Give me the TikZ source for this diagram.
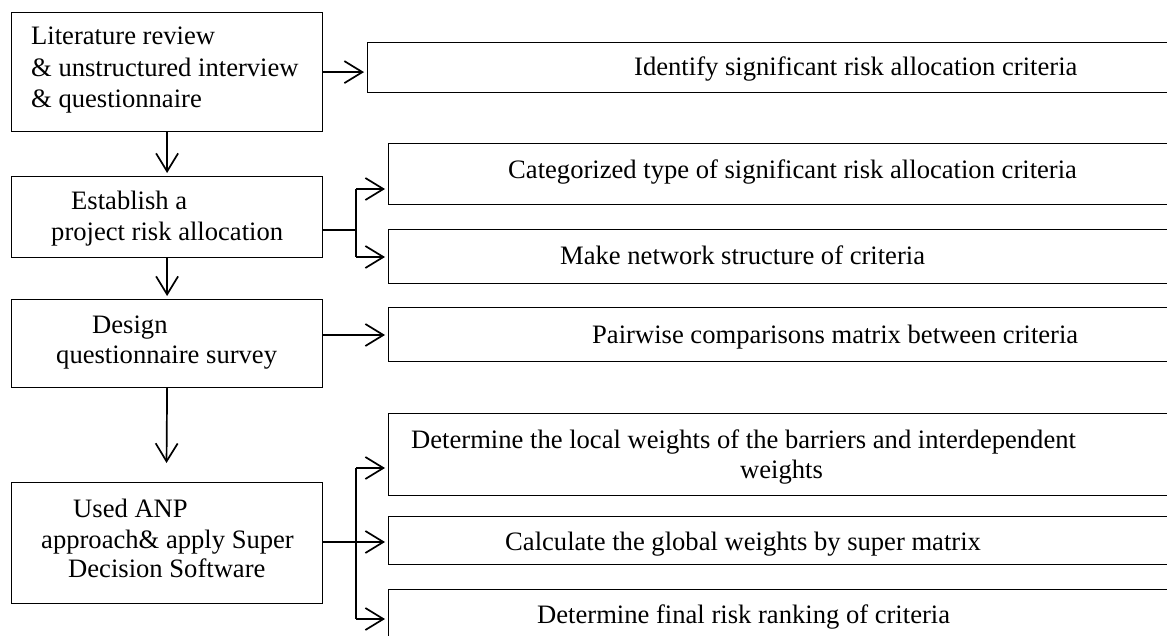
\documentclass[tikz,border=0pt]{standalone}
\usepackage{fontspec}
\setmainfont{Liberation Serif}
\usetikzlibrary{arrows.meta}
\begin{document}
\begin{tikzpicture}[x=1pt,y=-1pt,
  box/.style={draw=black,line width=1.2pt,inner sep=0pt,anchor=north west},
  txt/.style={anchor=base west,inner sep=0pt,font=\fontsize{26.6}{31.5}\selectfont},
  conn/.style={line width=1.7pt},
  arr/.style={conn,-{Straight Barb[length=18pt,width=22pt,line width=1.7pt]},shorten >=3pt}]
\clip (0,0) rectangle (1167,636);
\fill[white] (0,0) rectangle (1167,636);
% left boxes
\node[box,minimum width=311pt,minimum height=119pt] (L1) at (11,12) {};
\node[box,minimum width=311pt,minimum height=81pt] (L2) at (11,176) {};
\node[box,minimum width=311pt,minimum height=88pt] (L3) at (11,299) {};
\node[box,minimum width=311pt,minimum height=121pt] (L4) at (11,482) {};
% right boxes
\node[box,minimum width=813pt,minimum height=50pt] (R1) at (367,42) {};
\node[box,minimum width=792pt,minimum height=61pt] (R2) at (388,143) {};
\node[box,minimum width=792pt,minimum height=54pt] (R3) at (388,229) {};
\node[box,minimum width=792pt,minimum height=54pt] (R4) at (388,307) {};
\node[box,minimum width=792pt,minimum height=82pt] (R5) at (388,413) {};
\node[box,minimum width=792pt,minimum height=48pt] (R6) at (388,516) {};
\node[box,minimum width=792pt,minimum height=61pt] (R7) at (388,589) {};
% texts
\node[txt] (t1a) at (31,45) {Literature review};
\node[txt] (t1b) at (31,77) {\& unstructured interview};
\node[txt] (t1c) at (31,108) {\& questionnaire};
\node[txt] (t2a) at (71,210) {Establish a};
\node[txt] (t2b) at (51,241) {project risk allocation};
\node[txt] (t3a) at (92,333) {Design};
\node[txt] (t3b) at (56,363) {questionnaire survey};
\node[txt] (t4a) at (73,517) {Used ANP};
\node[txt] (t4b) at (41,548) {approach\& apply Super};
\node[txt] (t4c) at (68,577) {Decision Software};
\node[txt] (r1) at (634,76) {Identify significant risk allocation criteria};
\node[txt] (r2) at (508,179) {Categorized type of significant risk allocation criteria};
\node[txt] (r3) at (560,265) {Make network structure of criteria};
\node[txt] (r4) at (592,343) {Pairwise comparisons matrix between criteria};
\node[txt] (r5a) at (411,448) {Determine the local weights of the barriers and interdependent};
\node[txt] (r5b) at (740,478) {weights};
\node[txt] (r6) at (505,550) {Calculate the global weights by super matrix};
\node[txt] (r7) at (537,623) {Determine final risk ranking of criteria};
% vertical flow
\draw[arr] (L1.south) -- (L2.north);
\draw[arr] (L2.south) -- (L3.north);
\coordinate (e3) at (166.5,466);
\draw[arr] (L3.south) -- (e3);
% L1 -> R1
\draw[arr] (L1.east) -- (L1.east -| R1.west);
% L2 -> R2, R3
\coordinate (j2) at (356,230);
\coordinate (a2) at (356,189);
\coordinate (a3) at (356,257);
\draw[conn] (L2.east |- j2) -- (j2);
\draw[conn] (a2) -- (a3);
\draw[arr] (a2) -- (a2 -| R2.west);
\draw[arr] (a3) -- (a3 -| R3.west);
% L3 -> R4
\coordinate (a4) at (322,335);
\draw[arr] (a4) -- (a4 -| R4.west);
% L4 -> R5, R6, R7
\coordinate (j4) at (356,542);
\coordinate (a5) at (356,468);
\coordinate (a7) at (356,619);
\draw[conn] (L4.east |- j4) -- (j4);
\draw[conn] (a5) -- (a7);
\draw[arr] (a5) -- (a5 -| R5.west);
\draw[arr] (j4) -- (j4 -| R6.west);
\draw[arr] (a7) -- (a7 -| R7.west);
\end{tikzpicture}
\end{document}
